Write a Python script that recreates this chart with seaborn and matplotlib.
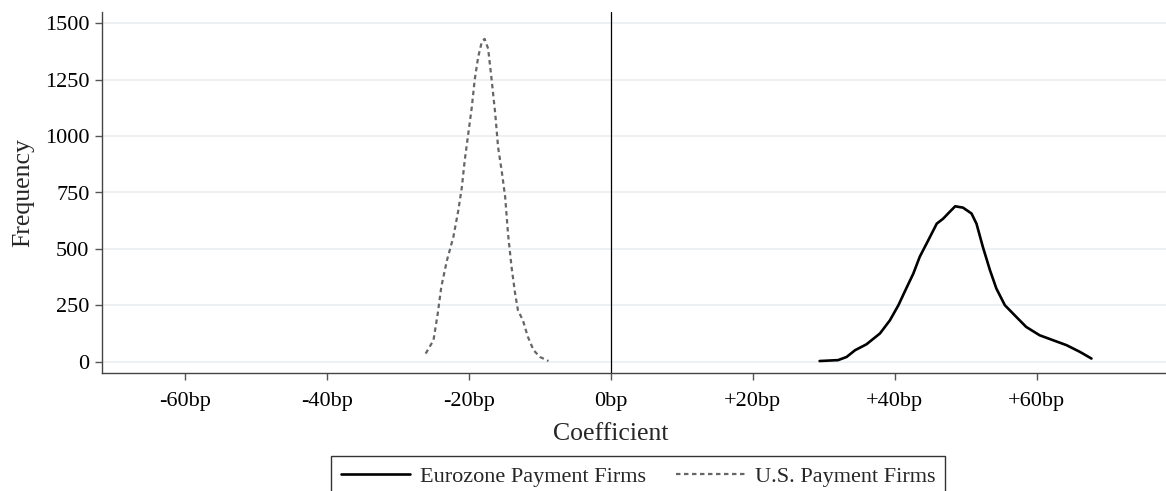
import numpy as np
import pandas as pd
import matplotlib
matplotlib.use("Agg")
import matplotlib.pyplot as plt
from matplotlib.ticker import FuncFormatter
import seaborn as sns

# Eurozone payment firms (coefficient in bp, frequency)
euro_coef = [29.4, 32.0, 33.2, 34.4, 36.0, 37.9, 39.3, 40.5, 41.6, 42.6, 43.5, 44.7,
             45.9, 46.8, 47.5, 48.5, 49.6, 50.8, 51.5, 52.4, 53.4, 54.3, 55.5, 56.9,
             58.5, 60.4, 62.3, 64.2, 66.1, 67.7]
euro_freq = [4, 8, 22, 52, 78, 126, 184, 251, 325, 391, 465, 538,
             612, 634, 657, 689, 683, 657, 612, 509, 406, 325, 251, 206,
             155, 118, 96, 74, 44, 15]

# U.S. payment firms
us_coef = [-26.1, -25.0, -24.4, -23.9, -23.1, -22.2, -21.5, -21.0, -20.6, -20.1,
           -19.6, -19.2, -18.7, -18.2, -17.8, -17.3, -16.8, -16.3, -15.9, -15.4,
           -14.9, -14.5, -14.0, -13.5, -13.1, -12.4, -11.7, -10.9, -10.0, -8.8]
us_freq = [37, 96, 214, 332, 450, 553, 671, 774, 892, 1010,
           1128, 1247, 1350, 1416, 1430, 1387, 1247, 1099, 951, 848,
           730, 568, 420, 303, 229, 184, 111, 52, 22, 4]

x_ticks = [-60, -40, -20, 0, 20, 40, 60]
y_ticks = [0, 250, 500, 750, 1000, 1250, 1500]

euro = pd.DataFrame({"coef": euro_coef, "freq": euro_freq})
us = pd.DataFrame({"coef": us_coef, "freq": us_freq})

sns.set_style("ticks")
plt.rcParams["font.family"] = ["Liberation Serif", "DejaVu Serif"]
plt.rcParams["axes.unicode_minus"] = False

fig = plt.figure(figsize=(11.66, 4.91), dpi=100)
ax = fig.add_axes([102 / 1166, 1 - 373 / 491, 1 - 102 / 1166, (373 - 12) / 491])

for y in y_ticks:
    ax.axhline(y, color="#e9eef0", lw=1.1, zorder=0)
ax.axvline(0, color="black", lw=0.9, zorder=1)

sns.lineplot(data=euro, x="coef", y="freq", ax=ax, color="black", lw=1.9,
             label="Eurozone Payment Firms")
sns.lineplot(data=us, x="coef", y="freq", ax=ax, color="#666666", lw=1.6,
             linestyle=(0, (2.0, 1.6)), label="U.S. Payment Firms")

ax.set_xlim(-71.7, 78.2)
ax.set_ylim(-49, 1549)
ax.set_xticks(x_ticks)
ax.set_yticks(y_ticks)


def bp_fmt(v, pos):
    v = int(round(v))
    if v > 0:
        return f"+{v}bp"
    return f"{v}bp"


ax.xaxis.set_major_formatter(FuncFormatter(bp_fmt))
ax.tick_params(axis="both", labelsize=16, length=5, width=1, color="#555555",
               labelcolor="black")
ax.tick_params(axis="x", pad=9)
ax.tick_params(axis="y", pad=4)

sns.despine(ax=ax)
for side in ["left", "bottom"]:
    ax.spines[side].set_color("#444444")
    ax.spines[side].set_linewidth(1)

ax.set_xlabel("Coefficient", fontsize=18.5)
ax.set_ylabel("Frequency", fontsize=18.5)
ax.xaxis.set_label_coords((611 - 102) / (1166 - 102), -0.138)
ax.yaxis.set_label_coords(-0.064, 0.5)

leg = ax.legend(loc="upper center", bbox_to_anchor=(638 / 1166, 1 - 456 / 491),
                bbox_transform=fig.transFigure, ncol=2, fontsize=16, frameon=True,
                fancybox=False, edgecolor="black", handlelength=3.1,
                handletextpad=0.45, columnspacing=1.35, borderpad=0.45,
                borderaxespad=0)
leg.get_frame().set_linewidth(1)

fig.savefig("out.png", dpi=100)
